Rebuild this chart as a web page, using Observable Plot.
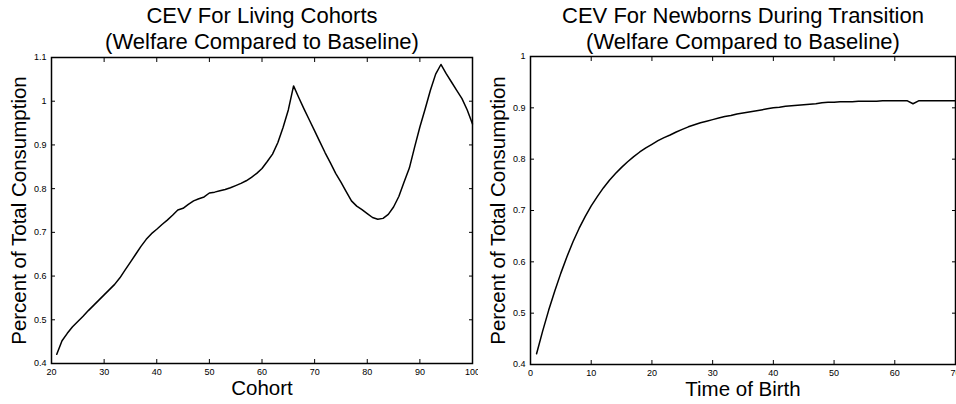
<!DOCTYPE html>
<html><head><meta charset="utf-8">
<script src="https://cdn.jsdelivr.net/npm/d3@7"></script>
<script src="https://cdn.jsdelivr.net/npm/@observablehq/plot@0.6"></script>
<style>
html,body{margin:0;padding:0;background:#fff;}
#wrap{display:flex;width:956px;height:404px;overflow:hidden;}
#wrap svg{flex:none;}
</style></head><body><div id="wrap"></div>
<script>
// ---- Left panel: CEV for living cohorts ----
const cohortAges = [21,22,23,24,25,26,27,28,29,30,31,32,33,34,35,36,37,38,39,40,
  41,42,43,44,45,46,47,48,49,50,51,52,53,54,55,56,57,58,59,60,
  61,62,63,64,65,66,67,68,69,70,71,72,73,74,75,76,77,78,79,80,
  81,82,83,84,85,86,87,88,89,90,91,92,93,94,95,96,97,98,99,100];
const cohortCEV = [0.421,0.452,0.469,0.484,0.496,0.508,0.521,0.533,0.545,0.557,
  0.569,0.581,0.596,0.614,0.632,0.650,0.668,0.684,0.697,0.707,
  0.718,0.728,0.739,0.751,0.755,0.764,0.772,0.777,0.781,0.790,
  0.792,0.795,0.798,0.802,0.807,0.812,0.818,0.826,0.835,0.846,
  0.862,0.879,0.905,0.940,0.980,1.035,1.008,0.982,0.957,0.932,
  0.907,0.882,0.859,0.835,0.815,0.793,0.772,0.760,0.752,0.743,
  0.734,0.730,0.732,0.741,0.758,0.782,0.815,0.847,0.895,0.941,
  0.982,1.025,1.062,1.084,1.063,1.044,1.025,1.006,0.980,0.948];

// ---- Right panel: CEV for newborns during transition ----
const birthTimes = [1,2,3,4,5,6,7,8,9,10,11,12,13,14,15,16,17,18,19,20,
  21,22,23,24,25,26,27,28,29,30,31,32,33,34,35,36,37,38,39,40,
  41,42,43,44,45,46,47,48,49,50,51,52,53,54,55,56,57,58,59,60,
  61,62,63,64,65,66,67,68,69,70];
const newbornCEV = [0.421,0.465,0.506,0.543,0.578,0.610,0.639,0.665,0.688,0.709,
  0.727,0.744,0.759,0.772,0.784,0.795,0.805,0.814,0.822,0.829,
  0.836,0.842,0.847,0.853,0.858,0.863,0.867,0.871,0.874,0.877,
  0.880,0.883,0.885,0.888,0.890,0.892,0.894,0.896,0.898,0.900,
  0.901,0.903,0.904,0.905,0.906,0.907,0.908,0.910,0.911,0.911,
  0.912,0.912,0.912,0.913,0.913,0.913,0.913,0.914,0.914,0.914,
  0.914,0.914,0.908,0.914,0.914,0.914,0.914,0.914,0.914,0.914];

// ---- Tick values ----
const leftXTicks = [20,30,40,50,60,70,80,90,100];
const leftYTicks = [0.4,0.5,0.6,0.7,0.8,0.9,1.0,1.1];
const rightXTicks = [0,10,20,30,40,50,60,70];
const rightYTicks = [0.4,0.5,0.6,0.7,0.8,0.9,1.0];

// ---- Text ----
const leftTitle = ["CEV For Living Cohorts", "(Welfare Compared to Baseline)"];
const rightTitle = ["CEV For Newborns During Transition", "(Welfare Compared to Baseline)"];
const yLabel = "Percent of Total Consumption";
const leftXLabel = "Cohort";
const rightXLabel = "Time of Birth";

const FONT = '"Liberation Sans", Arial, Helvetica, sans-serif';
const fmt = d => String(+(+d).toFixed(2));

function panel({xs, ys, xDomain, yDomain, xTicks, yTicks, title, xLabel, m}) {
  const rows = xs.map((x, i) => ({x, y: ys[i]}));
  return Plot.plot({
    width: 478, height: 404,
    marginLeft: m.left, marginRight: m.right, marginTop: m.top, marginBottom: m.bottom,
    style: {fontFamily: FONT, fontSize: "9px", color: "#000", background: "#fff", overflow: "visible"},
    x: {domain: xDomain},
    y: {domain: yDomain},
    marks: [
      Plot.axisX(xTicks, {anchor: "bottom", tickSize: 0, tickPadding: 5, label: null, tickFormat: fmt}),
      Plot.axisX(xTicks, {anchor: "bottom", tickSize: -4, fill: "none", label: null}),
      Plot.axisX(xTicks, {anchor: "top", tickSize: -4, fill: "none", label: null}),
      Plot.axisY(yTicks, {anchor: "left", tickSize: 0, tickPadding: 5, label: null, tickFormat: fmt}),
      Plot.axisY(yTicks, {anchor: "left", tickSize: -4, fill: "none", label: null}),
      Plot.axisY(yTicks, {anchor: "right", tickSize: -4, fill: "none", label: null}),
      Plot.line(rows, {x: "x", y: "y", stroke: "#000", strokeWidth: 1.5}),
      Plot.frame({stroke: "#000", strokeWidth: 1.5}),
      Plot.text([title[0]], {text: d => d, frameAnchor: "top", lineAnchor: "middle", textAnchor: "middle", dy: -m.top + 15, fontSize: 22}),
      Plot.text([title[1]], {text: d => d, frameAnchor: "top", lineAnchor: "middle", textAnchor: "middle", dy: -m.top + 41.5, fontSize: 22}),
      Plot.text([yLabel], {text: d => d, frameAnchor: "left", lineAnchor: "middle", textAnchor: "middle", dx: -32.5, rotate: -90, fontSize: 20.5}),
      Plot.text([xLabel], {text: d => d, frameAnchor: "bottom", lineAnchor: "middle", textAnchor: "middle", dy: 25, fontSize: 20.5})
    ]
  });
}

const wrap = document.getElementById("wrap");
wrap.appendChild(panel({
  xs: cohortAges, ys: cohortCEV, xDomain: [20, 100], yDomain: [0.4, 1.1],
  xTicks: leftXTicks, yTicks: leftYTicks, title: leftTitle, xLabel: leftXLabel,
  m: {left: 51, right: 6, top: 57, bottom: 41}
}));
wrap.appendChild(panel({
  xs: birthTimes, ys: newbornCEV, xDomain: [0, 70], yDomain: [0.4, 1.0],
  xTicks: rightXTicks, yTicks: rightYTicks, title: rightTitle, xLabel: rightXLabel,
  m: {left: 52, right: 1, top: 56, bottom: 40}
}));
</script></body></html>
